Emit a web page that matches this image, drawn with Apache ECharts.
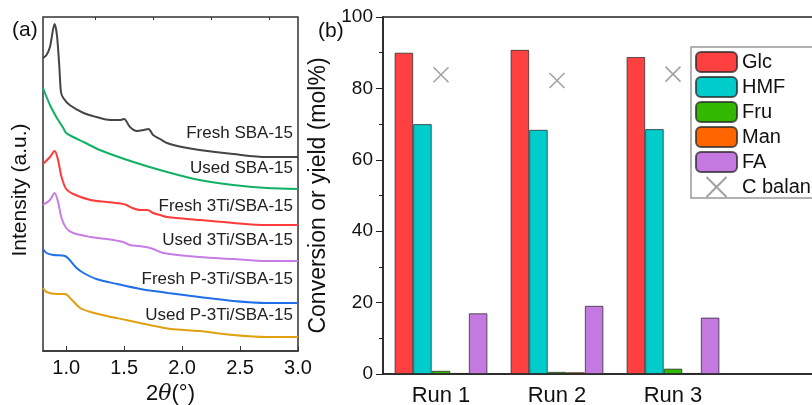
<!DOCTYPE html>
<html>
<head>
<meta charset="utf-8">
<script src="https://cdn.jsdelivr.net/npm/echarts@6/dist/echarts.min.js"></script>
<style>
html,body{margin:0;padding:0;background:#fff;overflow:hidden;}
#container{width:812px;height:405px;}
</style>
</head>
<body>
<div id="container"></div>
<script>
// (a) XRD patterns, [2theta, intensity a.u.]
var freshSBA = [[0.80,293],[0.83,296],[0.86,304],[0.90,327],[0.92,316],[0.94,286],[0.955,259],[0.975,253],[1.03,246],[1.15,238],[1.26,234],[1.38,231],[1.46,231],[1.50,232],[1.55,224],[1.61,220],[1.67,221],[1.71,222],[1.75,216],[1.81,212],[1.87,208],[2.0,204],[2.15,201],[2.44,197],[2.73,194],[3.0,194]];
var usedSBA = [[0.80,263],[0.86,246],[0.92,233],[0.975,223],[1.0,218],[1.06,214],[1.15,209],[1.29,201],[1.58,189],[1.87,179],[2.15,171],[2.44,166],[2.73,163],[3.0,162]];
var fresh3Ti = [[0.80,187],[0.86,194],[0.90,200],[0.93,191],[0.96,174],[1.0,162],[1.06,157],[1.21,151],[1.35,149],[1.49,147],[1.52,146],[1.57,143],[1.64,141],[1.70,141],[1.75,138],[1.81,136],[1.87,134],[2.15,131],[2.44,128],[2.73,126],[3.0,126]];
var used3Ti = [[0.80,146],[0.86,151],[0.90,158],[0.93,149],[0.96,133],[1.0,123],[1.06,118],[1.21,114],[1.35,112],[1.49,109],[1.55,106],[1.62,105],[1.69,104],[1.75,102],[1.84,98],[2.15,94],[2.44,92],[2.73,90],[3.0,90]];
var freshP3Ti = [[0.80,102],[0.83,98],[0.89,96],[0.99,95],[1.03,91],[1.09,83],[1.15,78],[1.26,72],[1.44,67],[1.64,62],[1.88,58],[2.15,54],[2.44,50],[2.73,48],[3.0,48]];
var usedP3Ti = [[0.80,63],[0.83,59],[0.92,57],[0.99,57],[1.05,51],[1.12,43],[1.21,39],[1.35,35],[1.52,31],[1.72,26],[1.90,22],[2.15,20],[2.44,16],[2.73,14],[3.0,14]];
var xrdTicks = [1.0, 1.5, 2.0, 2.5, 3.0];
var xrdMinorTicks = [1.25, 1.75, 2.25, 2.75];

// (b) recycling runs (mol%)
var runs = ['Run 1', 'Run 2', 'Run 3'];
var glc = [90.0, 90.8, 88.8];
var hmf = [70.0, 68.4, 68.6];
var fru = [0.9, 0.6, 1.5];
var man = [0.3, 0.5, 0.3];
var fa = [17.0, 19.1, 15.8];
var cBalance = [83.8, 82.2, 84.0];

var font = 'Liberation Sans, Arial, sans-serif';
var myChart = echarts.init(document.getElementById('container'));

function xrdLine(name, data, color) {
	return {
		name: name,
		type: 'line',
		xAxisIndex: 0,
		yAxisIndex: 0,
		data: data,
		smooth: 0.3,
		showSymbol: false,
		silent: true,
		lineStyle: { color: color, width: 2 }
	};
}
function runBar(name, data, color) {
	return {
		name: name,
		type: 'bar',
		xAxisIndex: 2,
		yAxisIndex: 1,
		data: data,
		barGap: 0,
		barCategoryGap: '20%',
		itemStyle: { color: color, borderColor: 'rgba(40,40,40,0.75)', borderWidth: 1 }
	};
}

var curveLabels = [
	['Fresh SBA-15', 135], ['Used SBA-15', 170], ['Fresh 3Ti/SBA-15', 208],
	['Used 3Ti/SBA-15', 242], ['Fresh P-3Ti/SBA-15', 281], ['Used P-3Ti/SBA-15', 317]
];
var graphics = [];
for (var i = 0; i < curveLabels.length; ++i) {
	graphics.push({
		type: 'text', right: 812 - 293, top: curveLabels[i][1] - 10,
		style: { text: curveLabels[i][0], font: '17px ' + font, fill: '#222' }
	});
}
graphics.push({ type: 'text', left: 12, top: 20, style: { text: '(a)', font: '21px ' + font, fill: '#111' } });
graphics.push({ type: 'text', left: 318, top: 21, style: { text: '(b)', font: '21px ' + font, fill: '#111' } });

var option = {
	animation: false,
	backgroundColor: '#fff',
	textStyle: { fontFamily: font },
	grid: [
		{ left: 43, top: 17, width: 255, height: 334, show: true, borderColor: '#333', borderWidth: 1.5, outerBoundsMode: 'none' },
		{ left: 383, top: 17, width: 464, height: 357, show: true, borderColor: '#222', borderWidth: 1.5, outerBoundsMode: 'none' }
	],
	legend: {
		data: ['Glc', 'HMF', 'Fru', 'Man', 'FA', 'C balance'],
		orient: 'vertical',
		left: 691,
		top: 47,
		itemWidth: 41,
		itemHeight: 20,
		itemGap: 3,
		padding: [4, 40, 0, 4],
		borderColor: '#999',
		borderWidth: 1.5,
		backgroundColor: '#fff',
		borderRadius: 0,
		textStyle: { fontSize: 20, color: '#111', fontFamily: font }
	},
	xAxis: [
		{
			type: 'value', gridIndex: 0, min: 0.8, max: 3.0,
			name: '{n|2}{t|θ}{n|(°)}', nameLocation: 'middle', nameGap: 31,
			nameTextStyle: { rich: {
				n: { fontSize: 22, color: '#111', fontFamily: font },
				t: { fontSize: 22, color: '#111', fontStyle: 'italic', fontFamily: 'DejaVu Serif, serif' }
			} },
			axisLine: { show: true, lineStyle: { color: '#333', width: 1.5 } },
			axisTick: { show: true, inside: true, length: 5, customValues: xrdTicks, lineStyle: { color: '#333' } },
			axisLabel: { customValues: xrdTicks, margin: 7, fontSize: 20, color: '#111',
				formatter: function(v) { return v.toFixed(1); } },
			splitLine: { show: false }
		},
		{
			type: 'value', gridIndex: 0, min: 0.8, max: 3.0,
			axisLine: { show: false },
			axisTick: { show: true, inside: true, length: 3, customValues: xrdMinorTicks, lineStyle: { color: '#333' } },
			axisLabel: { show: false },
			splitLine: { show: false }
		},
		{
			type: 'category', gridIndex: 1, data: runs, max: 3,
			axisLine: { show: true, lineStyle: { color: '#222', width: 1.5 } },
			axisTick: { show: false },
			axisLabel: { fontSize: 22, color: '#111', margin: 11 },
			splitLine: { show: false }
		}
	],
	yAxis: [
		{
			type: 'value', gridIndex: 0, min: 0, max: 334,
			name: 'Intensity (a.u.)', nameLocation: 'middle', nameGap: 12,
			nameTextStyle: { fontSize: 21, color: '#111', padding: [0, 12, 0, 0] },
			axisLine: { show: false }, axisTick: { show: false },
			axisLabel: { show: false }, splitLine: { show: false }
		},
		{
			type: 'value', gridIndex: 1, min: 0, max: 100, interval: 20,
			name: 'Conversion or yield (mol%)', nameLocation: 'middle', nameGap: 32,
			nameTextStyle: { fontSize: 23, color: '#111' },
			axisLine: { show: true, lineStyle: { color: '#222', width: 1.5 } },
			axisTick: { show: true, length: 7, lineStyle: { color: '#222' } },
			minorTick: { show: true, splitNumber: 2, length: 4, lineStyle: { color: '#222' } },
			axisLabel: { fontSize: 19, color: '#111', margin: 10 },
			splitLine: { show: false }
		}
	],
	series: [
		xrdLine('Fresh SBA-15', freshSBA, '#444444'),
		xrdLine('Used SBA-15', usedSBA, '#11b065'),
		xrdLine('Fresh 3Ti/SBA-15', fresh3Ti, '#ff3b3b'),
		xrdLine('Used 3Ti/SBA-15', used3Ti, '#c67de6'),
		xrdLine('Fresh P-3Ti/SBA-15', freshP3Ti, '#1f6fe8'),
		xrdLine('Used P-3Ti/SBA-15', usedP3Ti, '#e0a010'),
		runBar('Glc', glc, '#ff4040'),
		runBar('HMF', hmf, '#00cccc'),
		runBar('Fru', fru, '#33b800'),
		runBar('Man', man, '#ff6600'),
		runBar('FA', fa, '#c479e0'),
		{
			name: 'C balance',
			type: 'scatter',
			xAxisIndex: 2,
			yAxisIndex: 1,
			data: cBalance,
			symbol: 'path://M0,0L10,10M10,0L0,10',
			symbolSize: 15,
			symbolKeepAspect: true,
			itemStyle: { color: '#888', borderColor: '#888', borderWidth: 1.5 }
		}
	],
	graphic: graphics
};
myChart.setOption(option);
</script>
</body>
</html>
